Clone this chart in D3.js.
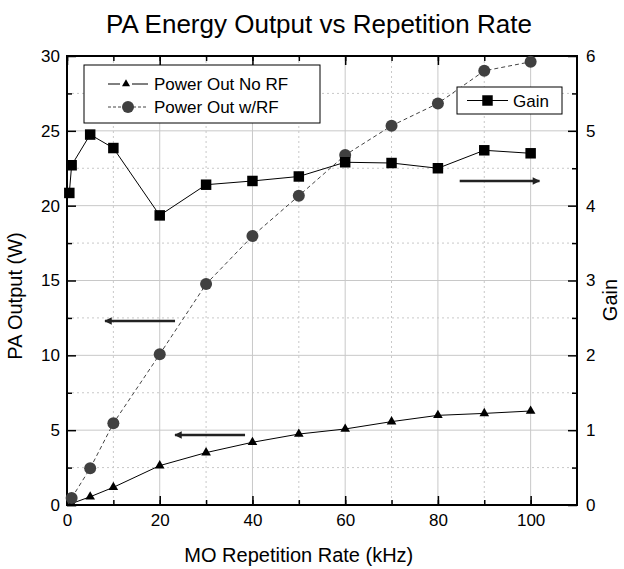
<!DOCTYPE html>
<html>
<head>
<meta charset="utf-8">
<script src="https://cdn.jsdelivr.net/npm/d3@7"></script>
<style>
  body { margin: 0; background: #fff; }
  svg text { font-family: "Liberation Sans", Arial, sans-serif; fill: #000; }
</style>
</head>
<body>
<svg id="chart" width="624" height="569"></svg>
<script>
// data
const rate = [1, 5, 10, 20, 30, 40, 50, 60, 70, 80, 90, 100];
const powerNoRF = [0.1, 0.55, 1.18, 2.63, 3.5, 4.19, 4.74, 5.08, 5.57, 5.99, 6.12, 6.28];
const powerRF = [0.47, 2.45, 5.46, 10.07, 14.76, 17.97, 20.66, 23.38, 25.34, 26.83, 29.01, 29.61];
const gainRate = [0.5, 1, 5, 10, 20, 30, 40, 50, 60, 70, 80, 90, 100];
const gain = [4.17, 4.54, 4.95, 4.77, 3.87, 4.28, 4.33, 4.39, 4.58, 4.57, 4.50, 4.74, 4.70];
const xTicks = [0, 20, 40, 60, 80, 100];
const yTicks = [0, 5, 10, 15, 20, 25, 30];
const gainTicks = [0, 1, 2, 3, 4, 5, 6];
// annotation arrows: [x1, x2, y, axis]
const arrows = [
    [23.3, 8.2, 12.3, "left"],
    [38.4, 23.3, 4.68, "left"],
    [84.7, 101.9, 4.33, "right"]
];

const margin = { top: 56, right: 47, bottom: 64, left: 67 };
const width = 624 - margin.left - margin.right;
const height = 569 - margin.top - margin.bottom;

const svg = d3.select("#chart");
const g = svg.append("g").attr("transform", `translate(${margin.left},${margin.top})`);

const x = d3.scaleLinear().domain([0, 110]).range([0, width]);
const y = d3.scaleLinear().domain([0, 30]).range([height, 0]);
const yGain = d3.scaleLinear().domain([0, 6]).range([height, 0]);

// grid: solid on major, dotted on minor
const grid = g.append("g");
d3.range(10, 110, 10).forEach(v => {
    grid.append("line")
        .attr("x1", x(v)).attr("x2", x(v)).attr("y1", 0).attr("y2", height)
        .attr("stroke", "#c8c8c8")
        .attr("stroke-width", 1)
        .attr("stroke-dasharray", v % 20 === 0 ? null : "2,3");
});
d3.range(2.5, 30, 2.5).forEach(v => {
    grid.append("line")
        .attr("x1", 0).attr("x2", width).attr("y1", y(v)).attr("y2", y(v))
        .attr("stroke", "#c8c8c8")
        .attr("stroke-width", 1)
        .attr("stroke-dasharray", v % 5 === 0 ? null : "2,3");
});

// axes with inward ticks
function styleAxis(sel) {
    sel.select(".domain").remove();
    sel.selectAll(".tick line").attr("stroke", "#000").attr("stroke-width", 1.5);
    sel.selectAll(".tick text").style("font-size", "17px");
}
const xMinor = d3.range(0, 110, 10);
g.append("g").attr("transform", `translate(0,${height})`)
    .call(d3.axisBottom(x).tickValues(xMinor).tickSize(-5).tickFormat(""))
    .call(styleAxis);
g.append("g").attr("transform", `translate(0,${height})`)
    .call(d3.axisBottom(x).tickValues(xTicks).tickSize(-9).tickPadding(9))
    .call(styleAxis);
g.append("g")
    .call(d3.axisTop(x).tickValues(xMinor).tickSize(-5).tickFormat(""))
    .call(styleAxis);
g.append("g")
    .call(d3.axisTop(x).tickValues(xTicks).tickSize(-9).tickFormat(""))
    .call(styleAxis);
g.append("g")
    .call(d3.axisLeft(y).tickValues(d3.range(2.5, 30, 5)).tickSize(-5).tickFormat(""))
    .call(styleAxis);
g.append("g")
    .call(d3.axisLeft(y).tickValues(yTicks).tickSize(-9).tickPadding(7))
    .call(styleAxis);
g.append("g").attr("transform", `translate(${width},0)`)
    .call(d3.axisRight(yGain).tickValues(d3.range(0.5, 6, 1)).tickSize(-5).tickFormat(""))
    .call(styleAxis);
g.append("g").attr("transform", `translate(${width},0)`)
    .call(d3.axisRight(yGain).tickValues(gainTicks).tickSize(-9).tickPadding(9).tickFormat(d3.format("d")))
    .call(styleAxis);

// frame
g.append("rect").attr("width", width).attr("height", height)
    .attr("fill", "none").attr("stroke", "#000").attr("stroke-width", 2);

// series
const linePower = d3.line().x((d, i) => x(rate[i])).y(d => y(d));
const lineGain = d3.line().x((d, i) => x(gainRate[i])).y(d => yGain(d));

g.append("path").datum(powerRF).attr("d", linePower)
    .attr("fill", "none").attr("stroke", "#444").attr("stroke-width", 1)
    .attr("stroke-dasharray", "4,3");
g.append("path").datum(powerNoRF).attr("d", linePower)
    .attr("fill", "none").attr("stroke", "#000").attr("stroke-width", 1);
g.append("path").datum(gain).attr("d", lineGain)
    .attr("fill", "none").attr("stroke", "#000").attr("stroke-width", 1);

const tri = d3.symbol().type(d3.symbolTriangle).size(40);
const sq = d3.symbol().type(d3.symbolSquare).size(110);

g.selectAll(".tri").data(powerNoRF).join("path")
    .attr("transform", (d, i) => `translate(${x(rate[i])},${y(d)})`)
    .attr("d", tri).attr("fill", "#000");
g.selectAll(".circ").data(powerRF).join("circle")
    .attr("cx", (d, i) => x(rate[i])).attr("cy", d => y(d))
    .attr("r", 6).attr("fill", "#404040");
g.selectAll(".sq").data(gain).join("path")
    .attr("transform", (d, i) => `translate(${x(gainRate[i])},${yGain(d)})`)
    .attr("d", sq).attr("fill", "#000");

// arrows
svg.append("defs").append("marker")
    .attr("id", "head").attr("viewBox", "0 0 10 10")
    .attr("refX", 9).attr("refY", 5)
    .attr("markerWidth", 4.8).attr("markerHeight", 3)
    .attr("markerUnits", "strokeWidth")
    .attr("orient", "auto")
    .append("path").attr("d", "M0,0L10,5L0,10z").attr("fill", "#222");
arrows.forEach(([x1, x2, v, side]) => {
    const yy = side === "left" ? y(v) : yGain(v);
    g.append("line")
        .attr("x1", x(x1)).attr("x2", x(x2)).attr("y1", yy).attr("y2", yy)
        .attr("stroke", "#222").attr("stroke-width", 2.5)
        .attr("marker-end", "url(#head)");
});

// legend 1
const leg1 = svg.append("g").attr("transform", "translate(84,65)");
leg1.append("rect").attr("width", 236).attr("height", 58)
    .attr("fill", "#fff").attr("stroke", "#000").attr("stroke-width", 1);
leg1.append("line").attr("x1", 24).attr("x2", 36).attr("y1", 19).attr("y2", 19)
    .attr("stroke", "#000").attr("stroke-width", 1);
leg1.append("line").attr("x1", 48).attr("x2", 64).attr("y1", 19).attr("y2", 19)
    .attr("stroke", "#000").attr("stroke-width", 1);
leg1.append("path").attr("transform", "translate(42,19)").attr("d", d3.symbol().type(d3.symbolTriangle).size(28)).attr("fill", "#000");
leg1.append("text").attr("x", 70).attr("y", 25).style("font-size", "17px").text("Power Out No RF");
leg1.append("line").attr("x1", 24).attr("x2", 64).attr("y1", 42).attr("y2", 42)
    .attr("stroke", "#444").attr("stroke-width", 1).attr("stroke-dasharray", "3,2");
leg1.append("circle").attr("cx", 44).attr("cy", 42).attr("r", 6).attr("fill", "#404040");
leg1.append("text").attr("x", 70).attr("y", 48).style("font-size", "17px").text("Power Out w/RF");

// legend 2
const leg2 = svg.append("g").attr("transform", "translate(457,87)");
leg2.append("rect").attr("width", 105).attr("height", 27)
    .attr("fill", "#fff").attr("stroke", "#000").attr("stroke-width", 1);
leg2.append("line").attr("x1", 10).attr("x2", 51).attr("y1", 13.5).attr("y2", 13.5)
    .attr("stroke", "#000").attr("stroke-width", 1);
leg2.append("path").attr("transform", "translate(30.5,13.5)").attr("d", sq).attr("fill", "#000");
leg2.append("text").attr("x", 56).attr("y", 20).style("font-size", "17px").text("Gain");

// titles
svg.append("text").attr("x", 319).attr("y", 33).attr("text-anchor", "middle")
    .style("font-size", "26px").text("PA Energy Output vs Repetition Rate");
svg.append("text").attr("x", margin.left + x(50)).attr("y", 562).attr("text-anchor", "middle")
    .style("font-size", "20px").text("MO Repetition Rate (kHz)");
svg.append("text").attr("transform", `translate(22,296) rotate(-90)`)
    .attr("text-anchor", "middle").style("font-size", "20px").text("PA Output (W)");
svg.append("text").attr("transform", `translate(617,300) rotate(-90)`)
    .attr("text-anchor", "middle").style("font-size", "20px").text("Gain");
</script>
</body>
</html>
